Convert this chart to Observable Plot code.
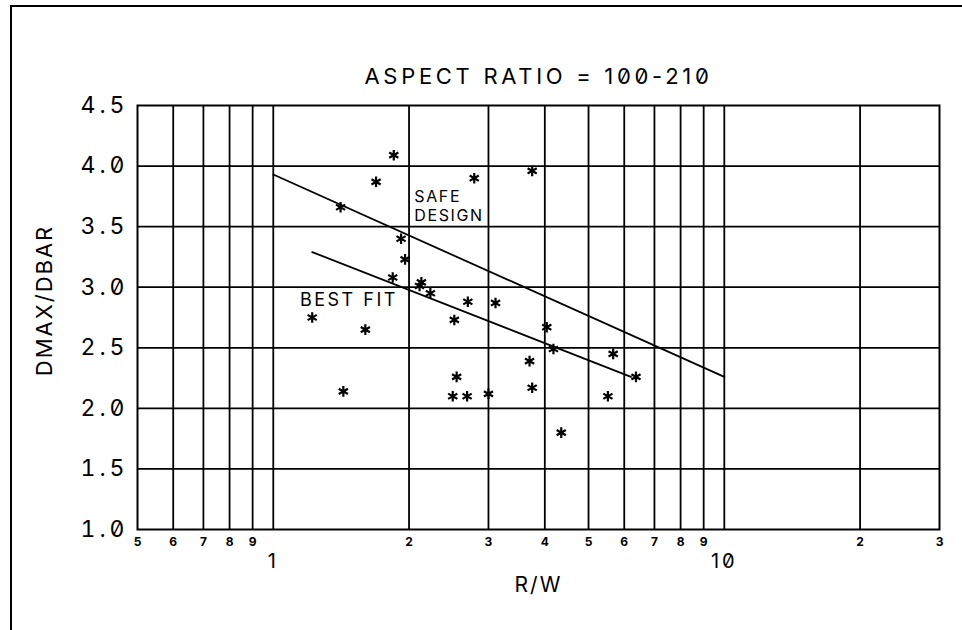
<!DOCTYPE html>
<html>
<head>
<meta charset="utf-8">
<script src="https://cdn.jsdelivr.net/npm/d3@7"></script>
<script src="https://cdn.jsdelivr.net/npm/@observablehq/plot@0.6"></script>
<style>
  html, body { margin: 0; padding: 0; background: #fff; }
  #page { position: relative; width: 962px; height: 630px; overflow: hidden; }
  #border { position: absolute; left: 10px; top: 5px; right: -10px; bottom: -10px;
            border-left: 2px solid #000; border-top: 2px solid #000; pointer-events: none; }
  svg { font-feature-settings: "zero" 1; font-variant-numeric: slashed-zero; }
  g[aria-description="title"] text { letter-spacing: 3.7px; }
  g[aria-label="y-axis tick label"] text { letter-spacing: 4px; }
  g[aria-description="axis name"] text { letter-spacing: 2px; }
  g[aria-description="best fit note"] text { letter-spacing: 2.5px; }
  g[aria-description="safe note"] text { letter-spacing: 1.6px; }
  g[aria-description="major tick label"] text { letter-spacing: 3px; }
</style>
</head>
<body>
<div id="page"><div id="border"></div></div>
<script>
// Measured ratios: R/W (log scale) against DMAX/DBAR
const rw   = [1.85, 1.69, 1.41, 1.92, 1.96, 1.84, 2.13, 2.11, 2.23, 2.79, 3.75, 1.22, 1.60, 1.43,
              2.52, 2.55, 2.50, 2.70, 3.11, 4.04, 4.18, 3.70, 5.67, 6.37, 2.69, 3.00, 3.75, 5.52, 4.35];
const dmax = [4.09, 3.87, 3.66, 3.40, 3.23, 3.08, 3.04, 3.01, 2.95, 3.90, 3.96, 2.75, 2.65, 2.14,
              2.73, 2.26, 2.10, 2.88, 2.87, 2.67, 2.49, 2.39, 2.45, 2.26, 2.10, 2.12, 2.17, 2.10, 1.80];

// Design curves (straight in log R/W)
const safeX = [1.0, 10.0];
const safeY = [3.93, 2.26];
const fitX  = [1.22, 6.21];
const fitY  = [3.29, 2.26];

// Axis ticks and labels
const xMinorTicks  = [0.5, 0.6, 0.7, 0.8, 0.9, 2, 3, 4, 5, 6, 7, 8, 9, 20, 30];
const xMinorLabels = ["5", "6", "7", "8", "9", "2", "3", "4", "5", "6", "7", "8", "9", "2", "3"];
const xMajorTicks  = [1, 10];
const xMajorLabels = ["1", "10"];
const xGrid        = [0.6, 0.7, 0.8, 0.9, 1, 2, 3, 4, 5, 6, 7, 8, 9, 10, 20];
const yTicks       = [1.0, 1.5, 2.0, 2.5, 3.0, 3.5, 4.0, 4.5];
const yGrid        = [1.5, 2.0, 2.5, 3.0, 3.5, 4.0];

const title = "ASPECT RATIO = 100-210";
const xName = "R/W";
const yName = "DMAX/DBAR";
const safeNote = [{x: 2.055, y: 3.82, text: "SAFE\nDESIGN"}];
const fitNote  = [{x: 1.146, y: 2.952, text: "BEST FIT"}];

const points = rw.map((r, i) => ({rw: r, dmax: dmax[i]}));
const safeLine = safeX.map((x, i) => ({x, y: safeY[i]}));
const fitLine = fitX.map((x, i) => ({x, y: fitY[i]}));
const minorTicks = xMinorTicks.map((t, i) => ({t, label: xMinorLabels[i]}));
const majorTicks = xMajorTicks.map((t, i) => ({t, label: xMajorLabels[i]}));

const ink = "#000";
const font = "Inter, 'DejaVu Sans', sans-serif";

const chart = Plot.plot({
  width: 962,
  height: 630,
  marginLeft: 137,
  marginRight: 23,
  marginTop: 105,
  marginBottom: 101,
  style: {fontFamily: font, color: ink, background: "transparent", overflow: "visible"},
  x: {type: "log", domain: [0.5, 30], axis: null},
  y: {domain: [1, 4.5]},
  marks: [
    Plot.gridX(xGrid, {stroke: ink, strokeOpacity: 1, strokeWidth: 1.8}),
    Plot.gridY(yGrid, {stroke: ink, strokeOpacity: 1, strokeWidth: 1.8}),
    Plot.frame({stroke: ink, strokeWidth: 2}),
    Plot.axisY(yTicks, {tickSize: 0, tickPadding: 9, fontSize: 23, tickFormat: d3.format(".1f"), label: null, color: ink}),
    // Decade sub-labels (single digits) and decade labels beneath the frame
    Plot.text(minorTicks, {x: "t", text: "label", frameAnchor: "bottom", lineAnchor: "top", dy: 8,
                           fontSize: 12, fontWeight: "bold", fill: ink}),
    Plot.text(majorTicks, {x: "t", text: "label", frameAnchor: "bottom", lineAnchor: "top", dy: 24,
                           fontSize: 20, fill: ink, ariaDescription: "major tick label"}),
    Plot.line(safeLine, {x: "x", y: "y", stroke: ink, strokeWidth: 1.8}),
    Plot.line(fitLine, {x: "x", y: "y", stroke: ink, strokeWidth: 1.8}),
    Plot.dot(points, {x: "rw", y: "dmax", symbol: "asterisk", r: 5, stroke: ink, strokeWidth: 2.2}),
    Plot.text(safeNote, {x: "x", y: "y", text: "text", textAnchor: "start", lineAnchor: "top",
                         lineHeight: 1.22, fontSize: 16, fill: ink, ariaDescription: "safe note"}),
    Plot.text(fitNote, {x: "x", y: "y", text: "text", textAnchor: "start", lineAnchor: "top",
                        fontSize: 18, fill: ink, ariaDescription: "best fit note"}),
    Plot.text([title], {frameAnchor: "top", lineAnchor: "middle", dy: -29, fontSize: 22, fill: ink,
                        ariaDescription: "title"}),
    Plot.text([xName], {frameAnchor: "bottom", lineAnchor: "middle", dy: 56, fontSize: 21, fill: ink,
                        ariaDescription: "axis name"}),
    Plot.text([yName], {frameAnchor: "left", textAnchor: "middle", lineAnchor: "middle", dx: -93, dy: -17,
                        rotate: -90, fontSize: 22, fill: ink, ariaDescription: "axis name"})
  ]
});

document.getElementById("page").prepend(chart);
</script>
</body>
</html>
